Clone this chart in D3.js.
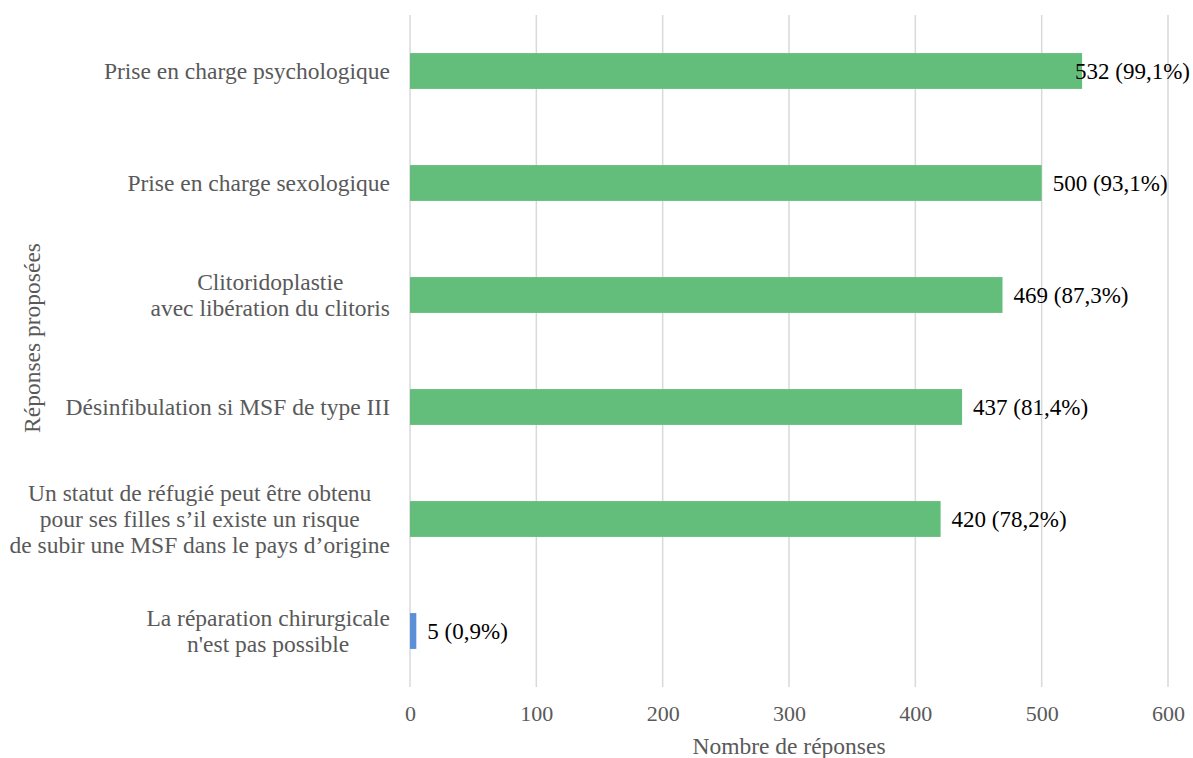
<!DOCTYPE html>
<html>
<head>
<meta charset="utf-8">
<script src="https://cdn.jsdelivr.net/npm/d3@7"></script>
<style>
  html, body { margin: 0; padding: 0; background: #fff; }
  svg { display: block; }
</style>
</head>
<body>
<svg id="chart" width="1193" height="758"></svg>
<script>
// Réponses proposées (one entry per row, lines split for wrapping)
const categories = [
  ["Prise en charge psychologique"],
  ["Prise en charge sexologique"],
  ["Clitoridoplastie", "avec libération du clitoris"],
  ["Désinfibulation si MSF de type III"],
  ["Un statut de réfugié peut être obtenu", "pour ses filles  s\u2019il existe un risque", "de subir une MSF dans le pays d\u2019origine"],
  ["La réparation chirurgicale", "n'est pas possible"]
];
const counts = [532, 500, 469, 437, 420, 5];
const percents = ["99,1%", "93,1%", "87,3%", "81,4%", "78,2%", "0,9%"];
const barColors = ["#63BE7B", "#63BE7B", "#63BE7B", "#63BE7B", "#63BE7B", "#5B8FD6"];
const xTicks = [0, 100, 200, 300, 400, 500, 600];

const FONT = "'Liberation Serif', 'Times New Roman', serif";
const FS = 23;
const CAT_FS = 23.5;

const svg = d3.select("#chart");
const plotLeft = 410, plotRight = 1168, plotTop = 15, plotBottom = 687;

const x = d3.scaleLinear().domain([0, 600]).range([plotLeft, plotRight]);
const y = d3.scaleBand().domain(d3.range(categories.length)).range([plotTop, plotBottom]).paddingInner(0.68).paddingOuter(0.34);

// Vertical gridlines
svg.append("g").selectAll("line").data(xTicks).join("line")
  .attr("x1", d => x(d)).attr("x2", d => x(d))
  .attr("y1", plotTop).attr("y2", plotBottom)
  .attr("stroke", "#d9d9d9").attr("stroke-width", 1.5);

// X tick labels
const xAxis = d3.axisBottom(x).tickValues(xTicks).tickSize(0).tickPadding(0);
const gx = svg.append("g").attr("transform", `translate(0,${plotBottom + 18})`).call(xAxis);
gx.select(".domain").remove();
gx.selectAll("text")
  .style("font-family", FONT)
  .style("font-size", "22px").attr("fill", "#595959").attr("dy", "0.71em");

// Bars
svg.append("g").selectAll("rect").data(counts).join("rect")
  .attr("x", x(0))
  .attr("y", (d, i) => y(i))
  .attr("width", d => x(d) - x(0))
  .attr("height", y.bandwidth())
  .attr("fill", (d, i) => barColors[i]);

// Value labels (kept inside the right edge when they would overflow)
const labels = svg.append("g").selectAll("text").data(counts).join("text")
  .attr("y", (d, i) => y(i) + y.bandwidth() / 2)
  .attr("dy", "0.35em")
  .style("font-family", FONT).style("font-size", FS + "px")
  .attr("fill", "#000")
  .text((d, i) => `${d} (${percents[i]})`);
labels.each(function (d) {
  const w = this.getComputedTextLength();
  const px = Math.min(x(d) + 11, 1190 - w);
  d3.select(this).attr("x", px);
});

// Category labels: lines centred within a block right-aligned to the axis
const catG = svg.append("g");
categories.forEach((lines, i) => {
  const t = catG.append("text")
    .style("font-family", FONT).style("font-size", CAT_FS + "px")
    .attr("fill", "#595959")
    .attr("text-anchor", "middle");
  const lh = 26;
  const cy = y(i) + y.bandwidth() / 2;
  const y0 = cy - (lines.length - 1) * lh / 2;
  lines.forEach((ln, j) => {
    t.append("tspan").attr("y", y0 + j * lh).attr("dy", "0.35em").text(ln);
  });
  let maxW = 0;
  t.selectAll("tspan").each(function () { maxW = Math.max(maxW, this.getComputedTextLength()); });
  const cx = 390 - maxW / 2;
  t.selectAll("tspan").attr("x", cx);
});

// Axis titles
svg.append("text")
  .attr("x", (plotLeft + plotRight) / 2).attr("y", 746)
  .attr("text-anchor", "middle").attr("dy", "0.35em")
  .style("font-family", FONT).style("font-size", CAT_FS + "px")
  .attr("fill", "#595959")
  .text("Nombre de réponses");

svg.append("text")
  .attr("transform", `translate(32,338) rotate(-90)`)
  .attr("text-anchor", "middle").attr("dy", "0.35em")
  .style("font-family", FONT).style("font-size", CAT_FS + "px")
  .attr("fill", "#595959")
  .text("Réponses proposées");
</script>
</body>
</html>
